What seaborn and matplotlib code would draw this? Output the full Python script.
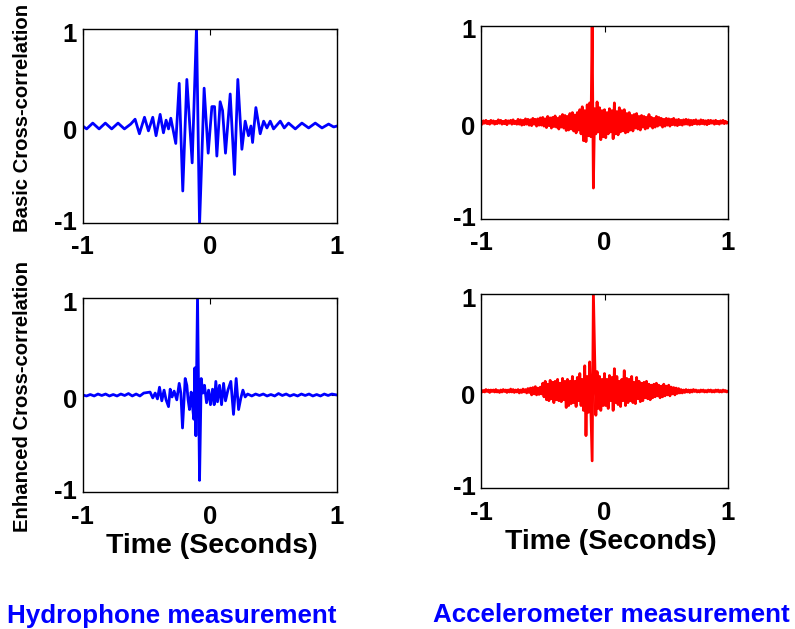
import numpy as np
import pandas as pd
import matplotlib
matplotlib.use("Agg")
import matplotlib.pyplot as plt
import matplotlib.transforms as mtransforms
import seaborn as sns

sns.set_style("white")
plt.rcParams['font.family'] = ['Liberation Sans', 'DejaVu Sans']
plt.rcParams['text.color'] = 'black'
plt.rcParams['xtick.color'] = 'black'
plt.rcParams['ytick.color'] = 'black'
plt.rcParams['axes.labelcolor'] = 'black'

# ---------------- data ----------------
# Hydrophone, basic cross-correlation (time in s, normalised value)
hyd_basic_t = [-1.0, -0.969, -0.921, -0.871, -0.822, -0.772, -0.722, -0.672, -0.622,
               -0.588, -0.554, -0.514, -0.483, -0.449, -0.423, -0.391, -0.365, -0.344,
               -0.325, -0.307, -0.286, -0.268, -0.241, -0.213, -0.181, -0.139, -0.105,
               -0.081, -0.045, -0.013, 0.016, 0.037, 0.055, 0.081, 0.100, 0.123, 0.160,
               0.194, 0.220, 0.252, 0.278, 0.304, 0.323, 0.336, 0.362, 0.396, 0.423,
               0.449, 0.475, 0.501, 0.554, 0.585, 0.619, 0.672, 0.724, 0.777, 0.829,
               0.882, 0.934, 0.974, 1.0]
hyd_basic_v = [0.0, -0.03, 0.03, -0.03, 0.03, -0.03, 0.03, -0.03, 0.02,
               0.07, -0.08, 0.09, -0.05, 0.09, -0.10, 0.12, -0.07, 0.06,
               -0.03, 0.08, -0.06, -0.18, 0.44, -0.67, 0.48, -0.38, 1.02,
               -1.02, 0.39, -0.28, 0.20, 0.20, -0.31, 0.25, 0.16, -0.28, 0.33,
               -0.50, 0.48, -0.24, 0.05, -0.10, 0.0, -0.17, 0.19, -0.08, 0.05,
               -0.02, 0.05, -0.03, 0.05, -0.02, 0.03, -0.03, 0.03, -0.02, 0.03,
               -0.02, 0.02, -0.01, 0.0]

# Hydrophone, enhanced cross-correlation
hyd_enh_t = [-1.0, -0.97, -0.94, -0.91, -0.88, -0.85, -0.82, -0.79, -0.76, -0.73,
             -0.70, -0.67, -0.64, -0.61, -0.58, -0.55, -0.52,
             -0.470, -0.449, -0.430, -0.412, -0.396, -0.378, -0.360, -0.344, -0.325,
             -0.312, -0.297, -0.281, -0.260, -0.241, -0.228, -0.215, -0.194, -0.181,
             -0.171, -0.160, -0.147, -0.136, -0.126, -0.118, -0.110, -0.097, -0.081,
             -0.068, -0.055, -0.042, -0.026, -0.010, 0.005, 0.021, 0.034, 0.047,
             0.060, 0.076, 0.092, 0.108, 0.123, 0.142, 0.165, 0.186, 0.207, 0.226,
             0.244, 0.260, 0.278, 0.297,
             0.33, 0.36, 0.39, 0.42, 0.45, 0.48, 0.51, 0.54, 0.57, 0.60, 0.63, 0.66,
             0.69, 0.72, 0.75, 0.78, 0.81, 0.84, 0.87, 0.90, 0.93, 0.96, 1.0]
hyd_enh_v = [0.0, -0.01, 0.005, -0.01, 0.01, -0.005, 0.01, -0.01, 0.005, -0.01,
             0.01, -0.005, 0.015, -0.01, 0.01, -0.01, 0.02,
             0.03, -0.03, 0.02, -0.04, 0.08, -0.06, 0.05, -0.05, -0.12,
             0.06, -0.02, 0.04, -0.05, 0.12, 0.02, -0.34, 0.17, 0.10,
             -0.05, -0.15, 0.03, -0.12, -0.25, 0.28, -0.42, 1.02, -0.88,
             0.17, 0.02, 0.10, -0.08, 0.05, -0.10, 0.06, -0.10, 0.14,
             -0.07, 0.10, -0.10, 0.12, -0.06, 0.05, 0.14, -0.20, 0.17, -0.15,
             -0.03, 0.05, -0.02, 0.01,
             -0.01, 0.01, -0.005, 0.01, -0.01, 0.005, -0.01, 0.015, -0.005, 0.01, -0.01, 0.005,
             -0.01, 0.01, -0.005, 0.01, -0.01, 0.005, -0.01, 0.01, -0.005, 0.01, 0.0]

# Accelerometer: sampled every 0.01 s from -1 to 1
acc_t = np.linspace(-1.0, 1.0, 201)
acc_basic_v = [
    0.01, -0.02, 0.015, -0.01, 0.02, -0.015, 0.01, -0.02, 0.02, -0.01,
    0.015, -0.02, 0.01, -0.015, 0.025, -0.01, 0.02, -0.02, 0.01, -0.015,
    0.02, -0.025, 0.015, -0.01, 0.02, -0.02, 0.025, -0.015, 0.01, -0.02,
    0.03, -0.02, 0.025, -0.03, 0.02, -0.025, 0.035, -0.02, 0.03, -0.03,
    0.025, -0.035, 0.04, -0.02, 0.03, -0.04, 0.035, -0.03, 0.045, -0.03,
    0.05, -0.04, 0.035, -0.055, 0.06, -0.035, 0.045, -0.06, 0.05, -0.045,
    0.065, -0.05, 0.04, -0.07, 0.06, -0.05, 0.08, -0.06, 0.07, -0.085,
    0.06, -0.08, 0.09, -0.07, 0.10, -0.09, 0.075, -0.11, 0.10, -0.08,
    0.13, -0.12, 0.16, -0.19, 0.12, -0.20, 0.18, -0.14, 0.20, -0.15,
    1.02, -0.68,
    0.14, -0.12, 0.21, -0.10, 0.15, -0.18, 0.12, -0.15,
    0.13, -0.16, 0.10, -0.12, 0.14, -0.10, 0.12, -0.17, 0.20, -0.12,
    0.11, -0.13, 0.15, -0.10, 0.12, -0.09, 0.13, -0.11, 0.09, -0.10,
    0.10, -0.08, 0.07, -0.09, 0.08, -0.06, 0.09, -0.07, 0.06, -0.08,
    0.07, -0.05, 0.06, -0.07, 0.05, -0.06, 0.08, -0.04, 0.05, -0.06,
    0.04, -0.05, 0.06, -0.04, 0.05, -0.03, 0.04, -0.05, 0.03, -0.04,
    0.04, -0.03, 0.035, -0.04, 0.03, -0.025, 0.04, -0.03, 0.025, -0.035,
    0.03, -0.025, 0.02, -0.03, 0.025, -0.02, 0.03, -0.02, 0.025, -0.03,
    0.02, -0.025, 0.02, -0.015, 0.025, -0.02, 0.015, -0.02, 0.025, -0.015,
    0.02, -0.02, 0.015, -0.025, 0.02, -0.015, 0.02, -0.01, 0.015, -0.02,
    0.02, -0.015, 0.01, -0.02, 0.015, -0.01, 0.02, -0.015, 0.01, -0.01, 0.0]
acc_enh_v = [
    0.01, -0.01, 0.005, -0.01, 0.015, -0.005, 0.01, -0.015, 0.01, -0.005,
    0.01, -0.01, 0.015, -0.01, 0.005, -0.015, 0.01, -0.01, 0.015, -0.005,
    0.01, -0.015, 0.01, -0.01, 0.02, -0.01, 0.015, -0.015, 0.01, -0.01,
    0.015, -0.02, 0.01, -0.015, 0.02, -0.01, 0.015, -0.02, 0.025, -0.015,
    0.03, -0.04, 0.035, -0.03, 0.045, -0.04, 0.03, -0.035, 0.04, -0.03,
    0.08, -0.06, 0.10, -0.09, 0.07, -0.10, 0.11, -0.08, 0.09, -0.12,
    0.10, -0.09, 0.12, -0.10, 0.08, -0.11, 0.13, -0.09, 0.10, -0.17,
    0.12, -0.15, 0.10, -0.13, 0.15, -0.12, 0.10, -0.16, 0.14, -0.10,
    0.18, -0.15, 0.12, -0.20, 0.26, -0.46, 0.15, -0.22, 0.30, -0.20,
    -0.72, 1.02, 0.40, -0.25, 0.20, -0.18, 0.15, -0.20, 0.12, -0.15,
    0.18, -0.15, 0.12, -0.18, 0.16, -0.10, 0.14, -0.20, 0.23, -0.12,
    0.15, -0.14, 0.10, -0.16, 0.12, -0.10, 0.21, -0.15, 0.13, -0.12,
    0.12, -0.10, 0.15, -0.12, 0.09, -0.13, 0.14, -0.08, 0.10, -0.11,
    0.08, -0.10, 0.09, -0.07, 0.10, -0.08, 0.07, -0.09, 0.06, -0.07,
    0.07, -0.06, 0.08, -0.05, 0.06, -0.07, 0.05, -0.06, 0.07, -0.05,
    0.05, -0.04, 0.06, -0.05, 0.04, -0.03, 0.035, -0.04, 0.03, -0.025,
    0.025, -0.02, 0.015, -0.02, 0.01, -0.015, 0.015, -0.01, 0.01, -0.015,
    0.01, -0.01, 0.015, -0.005, 0.01, -0.01, 0.005, -0.01, 0.01, -0.005,
    0.01, -0.01, 0.005, -0.01, 0.01, -0.005, 0.01, -0.01, 0.005, -0.01,
    0.01, -0.005, 0.01, -0.01, 0.005, -0.01, 0.01, -0.005, 0.005, -0.01, 0.0]

ticks = [-1, 0, 1]
tick_labels = ["-1", "0", "1"]
row_labels = ["Basic Cross-correlation", "Enhanced Cross-correlation"]
col_titles = ["Hydrophone measurement", "Accelerometer measurement"]
xlabel_text = "Time (Seconds)"

# ---------------- figure ----------------
fig = plt.figure(figsize=(7.95, 6.29), dpi=100)
W, H = 795.0, 629.0

def add_ax(l, t, r, b):
    return fig.add_axes([l / W, 1 - b / H, (r - l) / W, (b - t) / H])

ax_tl = add_ax(82.7, 29, 337, 223)
ax_tr = add_ax(481, 25.5, 728, 219)
ax_bl = add_ax(82.7, 298, 337, 492)
ax_br = add_ax(481, 294, 728, 488)

panels = [
    (ax_tl, hyd_basic_t, hyd_basic_v, "#0000ff"),
    (ax_tr, acc_t, acc_basic_v, "#ff0000"),
    (ax_bl, hyd_enh_t, hyd_enh_v, "#0000ff"),
    (ax_br, acc_t, acc_enh_v, "#ff0000"),
]

ydown = mtransforms.ScaledTranslation(0, -2.5 / 72.0, fig.dpi_scale_trans)
yup = mtransforms.ScaledTranslation(0, 2.0 / 72.0, fig.dpi_scale_trans)

for ax, t, v, col in panels:
    df = pd.DataFrame({"t": np.asarray(t, dtype=float), "v": np.asarray(v, dtype=float)})
    sns.lineplot(data=df, x="t", y="v", ax=ax, color=col, linewidth=2.0,
                 estimator=None, sort=False)
    ax.set_xlim(-1, 1)
    ax.set_ylim(-1, 1)
    ax.set_xticks(ticks)
    ax.set_yticks(ticks)
    ax.set_xticklabels(tick_labels, fontsize=18.5, fontweight="bold")
    ax.set_yticklabels(tick_labels, fontsize=18.5, fontweight="bold")
    ax.set_xlabel("")
    ax.set_ylabel("")
    ax.tick_params(direction="in", length=4, width=0.8, top=True, right=True,
                   colors="black", pad=4)
    ax.tick_params(axis="x", pad=9)
    ylabs = ax.get_yticklabels()
    for lab in ylabs[1:]:
        lab.set_transform(lab.get_transform() + ydown)
    ylabs[0].set_transform(ylabs[0].get_transform() + yup)
    for s in ax.spines.values():
        s.set_visible(True)
        s.set_color("black")
        s.set_linewidth(1.0)

# row labels
fig.text(23 / W, 1 - 118 / H, row_labels[0], rotation=90, ha="center", va="center",
         fontsize=14.6, fontweight="bold")
fig.text(23 / W, 1 - 396 / H, row_labels[1], rotation=90, ha="center", va="center",
         fontsize=14.6, fontweight="bold")

# x labels
fig.text(211.5 / W, 1 - 553 / H, xlabel_text, ha="center", va="baseline",
         fontsize=20.5, fontweight="bold")
fig.text(611 / W, 1 - 549 / H, xlabel_text, ha="center", va="baseline",
         fontsize=20.5, fontweight="bold")

# column titles
fig.text(7 / W, 1 - 623 / H, col_titles[0], ha="left", va="baseline",
         fontsize=18.7, fontweight="bold", color="#0000ff")
fig.text(433 / W, 1 - 621.5 / H, col_titles[1], ha="left", va="baseline",
         fontsize=18.7, fontweight="bold", color="#0000ff")

fig.savefig("out.png", dpi=100)
